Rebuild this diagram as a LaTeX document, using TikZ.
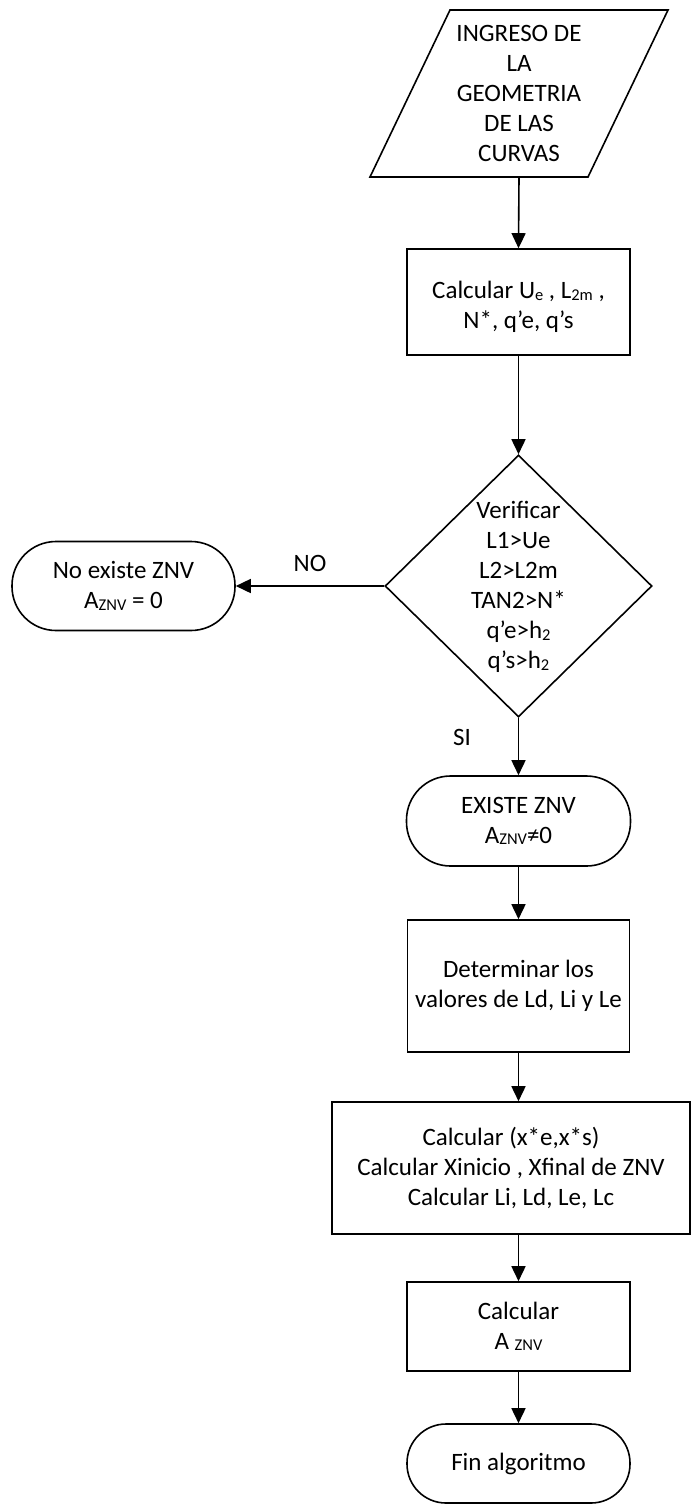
\documentclass[tikz,border=0pt]{standalone}
\usepackage{fontspec}
\setmainfont{Carlito}
\usetikzlibrary{arrows.meta,shapes.geometric}

% small lowered index text (U_e, L_2m, h_2, A_ZNV)
\newcommand{\lowidx}[1]{\raisebox{-1.5pt}{\fontsize{16.5}{16.5}\selectfont #1}}

\begin{document}
\begin{tikzpicture}[x=1pt,y=-1pt,
  every node/.style={font=\fontsize{25}{30}\selectfont, align=center, inner sep=0pt},
  outline/.style={draw, line width=1.6pt},
  procbox/.style={outline, rectangle, minimum width=#1},
  terminal/.style={outline, rectangle, rounded corners=44pt, minimum width=223pt, minimum height=89pt},
  flow/.style={line width=1.6pt, -{Triangle[length=15pt,width=14pt]}},
  lbl/.style={font=\fontsize{25}{30}\selectfont}]

\fill[white] (0,0) rectangle (693,1508);
\useasboundingbox (0,0) rectangle (693,1508);

% input (parallelogram)
\node[minimum width=220pt, minimum height=167pt] (in) at (519,93.5)
  {INGRESO DE\\LA\\GEOMETRIA\\DE LAS\\CURVAS};
\draw[outline] (450,10) -- (668,10) -- (588,177) -- (370,177) -- cycle;

% first computation
\node[procbox=223pt, minimum height=106pt] (calc1) at (518.5,302) {};
\node (calc1text) at (518.5,307)
  {Calcular U\lowidx{e} , L\lowidx{2m} ,\\N*, q’e, q’s};

% decision
\node[outline, diamond, minimum width=267pt, minimum height=262pt] (dec) at (518.5,586) {};
\node (dectext) at (518.5,587)
  {Verificar\\L1>Ue\\L2>L2m\\TAN2>N*\\q’e>h\lowidx{2}\\q’s>h\lowidx{2}};

% no branch
\node[terminal, minimum height=89pt] (noex) at (123.5,586)
  {No existe ZNV\\A\lowidx{ZNV} = 0};

% yes branch
\node[terminal, minimum width=224pt, minimum height=90pt] (exist) at (518.5,821)
  {EXISTE ZNV\\A\lowidx{ZNV}≠0};

\node[procbox=222pt, minimum height=132pt] (det) at (518.5,986)
  {Determinar los\\valores de Ld, Li y Le};

\node[procbox=358pt, minimum height=132pt] (calc2) at (511,1168)
  {Calcular (x*e,x*s)\\Calcular Xinicio , Xfinal de ZNV\\Calcular Li, Ld, Le, Lc};

\node[procbox=223pt, minimum height=89pt] (calc3) at (518.5,1326.5)
  {Calcular\\A \lowidx{ZNV}};

\node[terminal, minimum height=79pt, rounded corners=39pt] (fin) at (518.5,1463.5)
  {Fin algoritmo};

% connectors
\draw[flow] (in.south) -- (calc1.north);
\draw[flow] (calc1.south) -- (dec.north);
\draw[flow] (dec.west) -- node[lbl, above=14pt, pos=0.5] (nolbl) {NO} (noex.east);
\draw[flow] (dec.south) -- (exist.north);
\node[lbl] (silbl) at (462,737) {SI};
\draw[flow] (exist.south) -- (det.north);
\draw[flow] (det.south) -- (det.south |- calc2.north);
\draw[flow] (det.south |- calc2.south) -- (calc3.north);
\draw[flow] (calc3.south) -- (fin.north);

\end{tikzpicture}
\end{document}
